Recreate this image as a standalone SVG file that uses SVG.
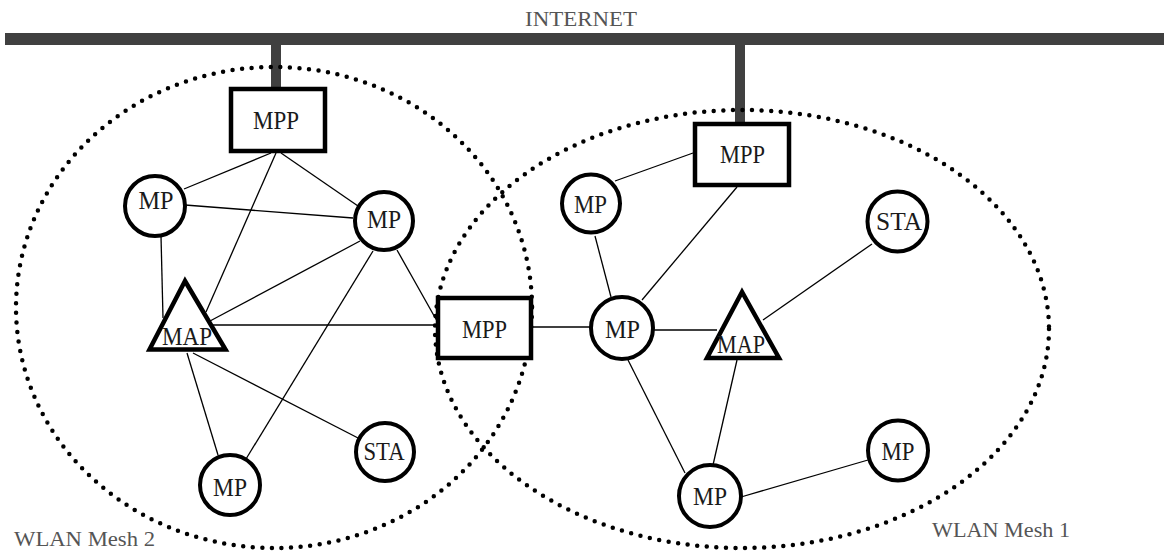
<svg xmlns="http://www.w3.org/2000/svg" width="1164" height="551" viewBox="0 0 1164 551">
<style>
.bg{fill:#ffffff}
.bar{stroke:#404040;fill:none}
.mesh{fill:none;stroke:#000;stroke-width:4.5;stroke-dasharray:0 9.6;stroke-linecap:round}
.edge{stroke:#000;stroke-width:1.3;fill:none}
.node{fill:#fff;stroke:#000}
.circ{stroke-width:4}
.box{stroke-width:4.5}
.tri{stroke-width:4.5;stroke-linejoin:miter}
.t{font-family:"Liberation Serif","Times New Roman",serif;font-size:25px;fill:#1a1a1a;text-anchor:middle}
.lbl{font-family:"Liberation Serif","Times New Roman",serif;font-size:22px;fill:#555}
</style>
<rect class="bg" x="0" y="0" width="1164" height="551"/>
<g id="internet">
  <line class="bar" x1="5" y1="39" x2="1164" y2="39" stroke-width="12"/>
  <line class="bar" x1="276" y1="39" x2="276" y2="90" stroke-width="10"/>
  <line class="bar" x1="740" y1="39" x2="740" y2="124" stroke-width="10"/>
  <text class="lbl" x="581" y="26" text-anchor="middle" textLength="112" lengthAdjust="spacingAndGlyphs">INTERNET</text>
</g>
<g id="mesh2">
  <ellipse class="mesh" cx="274" cy="307.5" rx="258" ry="240.5"/>
  <text class="lbl" x="14" y="546" textLength="141" lengthAdjust="spacingAndGlyphs">WLAN Mesh 2</text>
</g>
<g id="mesh1">
  <ellipse class="mesh" cx="742" cy="329" rx="307" ry="219"/>
  <text class="lbl" x="932" y="537" textLength="138" lengthAdjust="spacingAndGlyphs">WLAN Mesh 1</text>
</g>
<g id="connectors">
  <line class="edge" x1="271" y1="153" x2="184" y2="189"/>
  <line class="edge" x1="276" y1="153" x2="206" y2="312"/>
  <line class="edge" x1="281" y1="153" x2="358" y2="206"/>
  <line class="edge" x1="185" y1="205" x2="353" y2="218"/>
  <line class="edge" x1="161" y1="236" x2="163" y2="318"/>
  <line class="edge" x1="210" y1="321" x2="360" y2="241"/>
  <line class="edge" x1="213" y1="325" x2="438" y2="325"/>
  <line class="edge" x1="397" y1="250" x2="437" y2="321"/>
  <line class="edge" x1="373" y1="251" x2="246" y2="459"/>
  <line class="edge" x1="193" y1="353" x2="360" y2="439"/>
  <line class="edge" x1="187" y1="353" x2="218" y2="455"/>
  <line class="edge" x1="693" y1="153" x2="615" y2="181"/>
  <line class="edge" x1="737" y1="187" x2="642" y2="300"/>
  <line class="edge" x1="595" y1="236" x2="611" y2="297"/>
  <line class="edge" x1="531" y1="327" x2="591" y2="327"/>
  <line class="edge" x1="653" y1="330" x2="717" y2="330"/>
  <line class="edge" x1="763" y1="320" x2="872" y2="244"/>
  <line class="edge" x1="737" y1="360" x2="713" y2="465"/>
  <line class="edge" x1="628" y1="360" x2="685" y2="473"/>
  <line class="edge" x1="741" y1="497" x2="868" y2="460"/>
</g>
<g id="mpp-left">
  <rect class="node box" x="231" y="89" width="94" height="62"/>
  <text class="t" x="276" y="129" textLength="46" lengthAdjust="spacingAndGlyphs">MPP</text>
</g>
<g id="mpp-right">
  <rect class="node box" x="695" y="124" width="94" height="61"/>
  <text class="t" x="742.5" y="163" textLength="45" lengthAdjust="spacingAndGlyphs">MPP</text>
</g>
<g id="mpp-mid">
  <rect class="node box" x="438" y="298" width="93" height="60"/>
  <text class="t" x="484.5" y="338" textLength="45" lengthAdjust="spacingAndGlyphs">MPP</text>
</g>
<g id="mp-l1">
  <circle class="node circ" cx="155" cy="206" r="30"/>
  <text class="t" x="156" y="209" textLength="35" lengthAdjust="spacingAndGlyphs">MP</text>
</g>
<g id="mp-l2">
  <circle class="node circ" cx="384" cy="221" r="29"/>
  <text class="t" x="384" y="228" textLength="34" lengthAdjust="spacingAndGlyphs">MP</text>
</g>
<g id="map-l">
  <polygon class="node tri" points="185,281 149.5,349.5 225.5,349.5"/>
  <text class="t" x="187" y="345" textLength="50" lengthAdjust="spacingAndGlyphs">MAP</text>
</g>
<g id="sta-l">
  <circle class="node circ" cx="385" cy="452" r="29"/>
  <text class="t" x="384" y="460" textLength="41" lengthAdjust="spacingAndGlyphs">STA</text>
</g>
<g id="mp-l3">
  <circle class="node circ" cx="230" cy="485" r="30"/>
  <text class="t" x="230" y="496" textLength="34" lengthAdjust="spacingAndGlyphs">MP</text>
</g>
<g id="mp-r1">
  <circle class="node circ" cx="591" cy="203.5" r="29"/>
  <text class="t" x="590.5" y="213" textLength="33" lengthAdjust="spacingAndGlyphs">MP</text>
</g>
<g id="mp-r2">
  <circle class="node circ" cx="622" cy="328" r="31"/>
  <text class="t" x="622.5" y="338" textLength="35" lengthAdjust="spacingAndGlyphs">MP</text>
</g>
<g id="map-r">
  <polygon class="node tri" points="742,292 707,358 779,358"/>
  <text class="t" x="741" y="353" textLength="48" lengthAdjust="spacingAndGlyphs">MAP</text>
</g>
<g id="sta-r">
  <circle class="node circ" cx="897.5" cy="221.5" r="30"/>
  <text class="t" x="899" y="230" textLength="46" lengthAdjust="spacingAndGlyphs">STA</text>
</g>
<g id="mp-r3">
  <circle class="node circ" cx="710" cy="496" r="31"/>
  <text class="t" x="710" y="505" textLength="34" lengthAdjust="spacingAndGlyphs">MP</text>
</g>
<g id="mp-r4">
  <circle class="node circ" cx="898" cy="450.5" r="30"/>
  <text class="t" x="898" y="460" textLength="33" lengthAdjust="spacingAndGlyphs">MP</text>
</g>
</svg>
